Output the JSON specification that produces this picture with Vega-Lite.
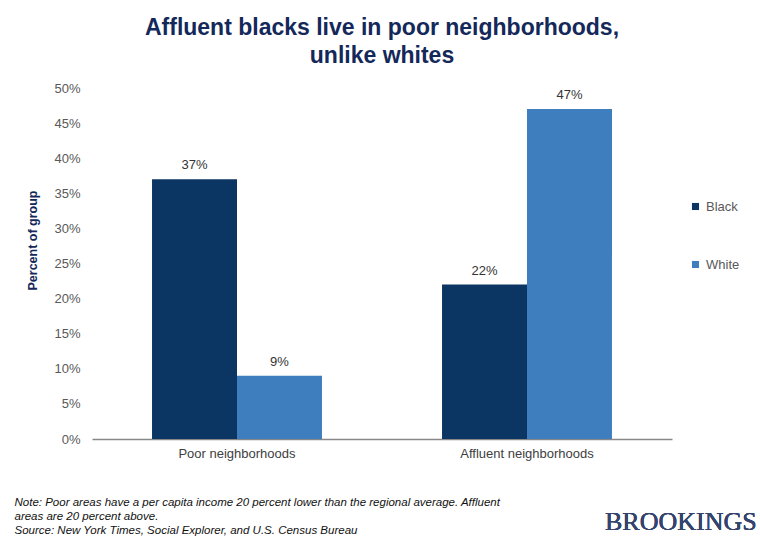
{
  "$schema": "https://vega.github.io/schema/vega-lite/v6.json",
  "width": 580,
  "height": 351,
  "autosize": "none",
  "padding": {"left": 92, "top": 88, "right": 88, "bottom": 101},
  "background": "white",
  "title": {
    "text": ["Affluent blacks live in poor neighborhoods,", "unlike whites"],
    "font": "Liberation Sans",
    "fontSize": 23,
    "fontWeight": "bold",
    "color": "#14285a",
    "anchor": "middle",
    "frame": "group",
    "lineHeight": 28,
    "offset": 14
  },
  "data": {
    "values": [
      {"area": "Poor neighborhoods", "group": "Black", "share": 0.37},
      {"area": "Poor neighborhoods", "group": "White", "share": 0.09},
      {"area": "Affluent neighborhoods", "group": "Black", "share": 0.22},
      {"area": "Affluent neighborhoods", "group": "White", "share": 0.47}
    ]
  },
  "config": {
    "view": {"stroke": null},
    "font": "Liberation Sans",
    "axisY": {"labelOverlap": false}
  },
  "encoding": {
    "x": {
      "field": "area", "type": "nominal", "sort": ["Poor neighborhoods", "Affluent neighborhoods"],
      "scale": {"paddingInner": 0.414, "paddingOuter": 0.207},
      "axis": {
        "labelAngle": 0, "labelFontSize": 13, "labelColor": "#404040", "labelPadding": 8,
        "ticks": false, "domainColor": "#888888", "domainWidth": 1.5,
        "title": ["Note: Poor areas have a per capita income 20 percent lower than the regional average. Affluent", "areas are 20 percent above.", "Source: New York Times, Social Explorer, and U.S. Census Bureau"],
        "titleFontStyle": "italic", "titleFontWeight": "normal", "titleFontSize": 11.5,
        "titleColor": "#111111", "titleAlign": "left", "titleAnchor": "start",
        "titleBaseline": "top", "titleX": -78, "titleY": 57, "titleLineHeight": 14
      }
    },
    "xOffset": {"field": "group", "type": "nominal", "sort": ["Black", "White"]},
    "y": {
      "field": "share", "type": "quantitative",
      "scale": {"domain": [0, 0.5]},
      "axis": {
        "format": ".0%", "values": [0, 0.05, 0.1, 0.15, 0.2, 0.25, 0.3, 0.35, 0.4, 0.45, 0.5],
        "labelOverlap": false,
        "grid": false, "domain": false, "ticks": false,
        "labelFontSize": 13, "labelColor": "#595959", "labelPadding": 12,
        "title": "Percent of group", "titleFontSize": 12.5, "titleFontWeight": "bold",
        "titleColor": "#14285a", "titleAlign": "center", "titleX": -53, "titleY": 152
      }
    }
  },
  "layer": [
    {
      "mark": {"type": "bar"},
      "encoding": {
        "color": {
          "field": "group", "type": "nominal",
          "scale": {"domain": ["Black", "White"], "range": ["#0b3563", "#3e7ebf"]},
          "legend": {
            "title": null, "orient": "none", "legendX": 597, "legendY": 112,
            "symbolType": "square", "symbolSize": 50, "symbolStrokeWidth": 0,
            "labelFontSize": 13, "labelColor": "#595959", "rowPadding": 44, "labelOffset": 4
          }
        }
      }
    },
    {
      "mark": {"type": "text", "baseline": "bottom", "dy": -7, "fontSize": 13, "color": "#333333"},
      "encoding": {
        "text": {"field": "share", "type": "quantitative", "format": ".0%"}
      }
    },
    {
      "mark": {"type": "text", "align": "left", "baseline": "alphabetic", "dx": 163, "font": "Liberation Serif", "fontSize": 26, "fontWeight": "normal", "color": "#34446e", "text": "BROOKINGS"},
      "encoding": {
        "x": {"datum": "Affluent neighborhoods", "type": "nominal"},
        "xOffset": {"value": 0},
        "y": {"datum": -0.13, "type": "quantitative",
          "scale": {"domain": [0, 0.5]},
          "axis": {
            "format": ".0%", "values": [0, 0.05, 0.1, 0.15, 0.2, 0.25, 0.3, 0.35, 0.4, 0.45, 0.5],
            "labelOverlap": false,
            "grid": false, "domain": false, "ticks": false,
            "labelFontSize": 13, "labelColor": "#595959", "labelPadding": 12,
            "title": "Percent of group", "titleFontSize": 12.5, "titleFontWeight": "bold",
            "titleColor": "#14285a", "titleAlign": "center", "titleX": -53, "titleY": 152
          }
        }
      }
    }
  ]
}
